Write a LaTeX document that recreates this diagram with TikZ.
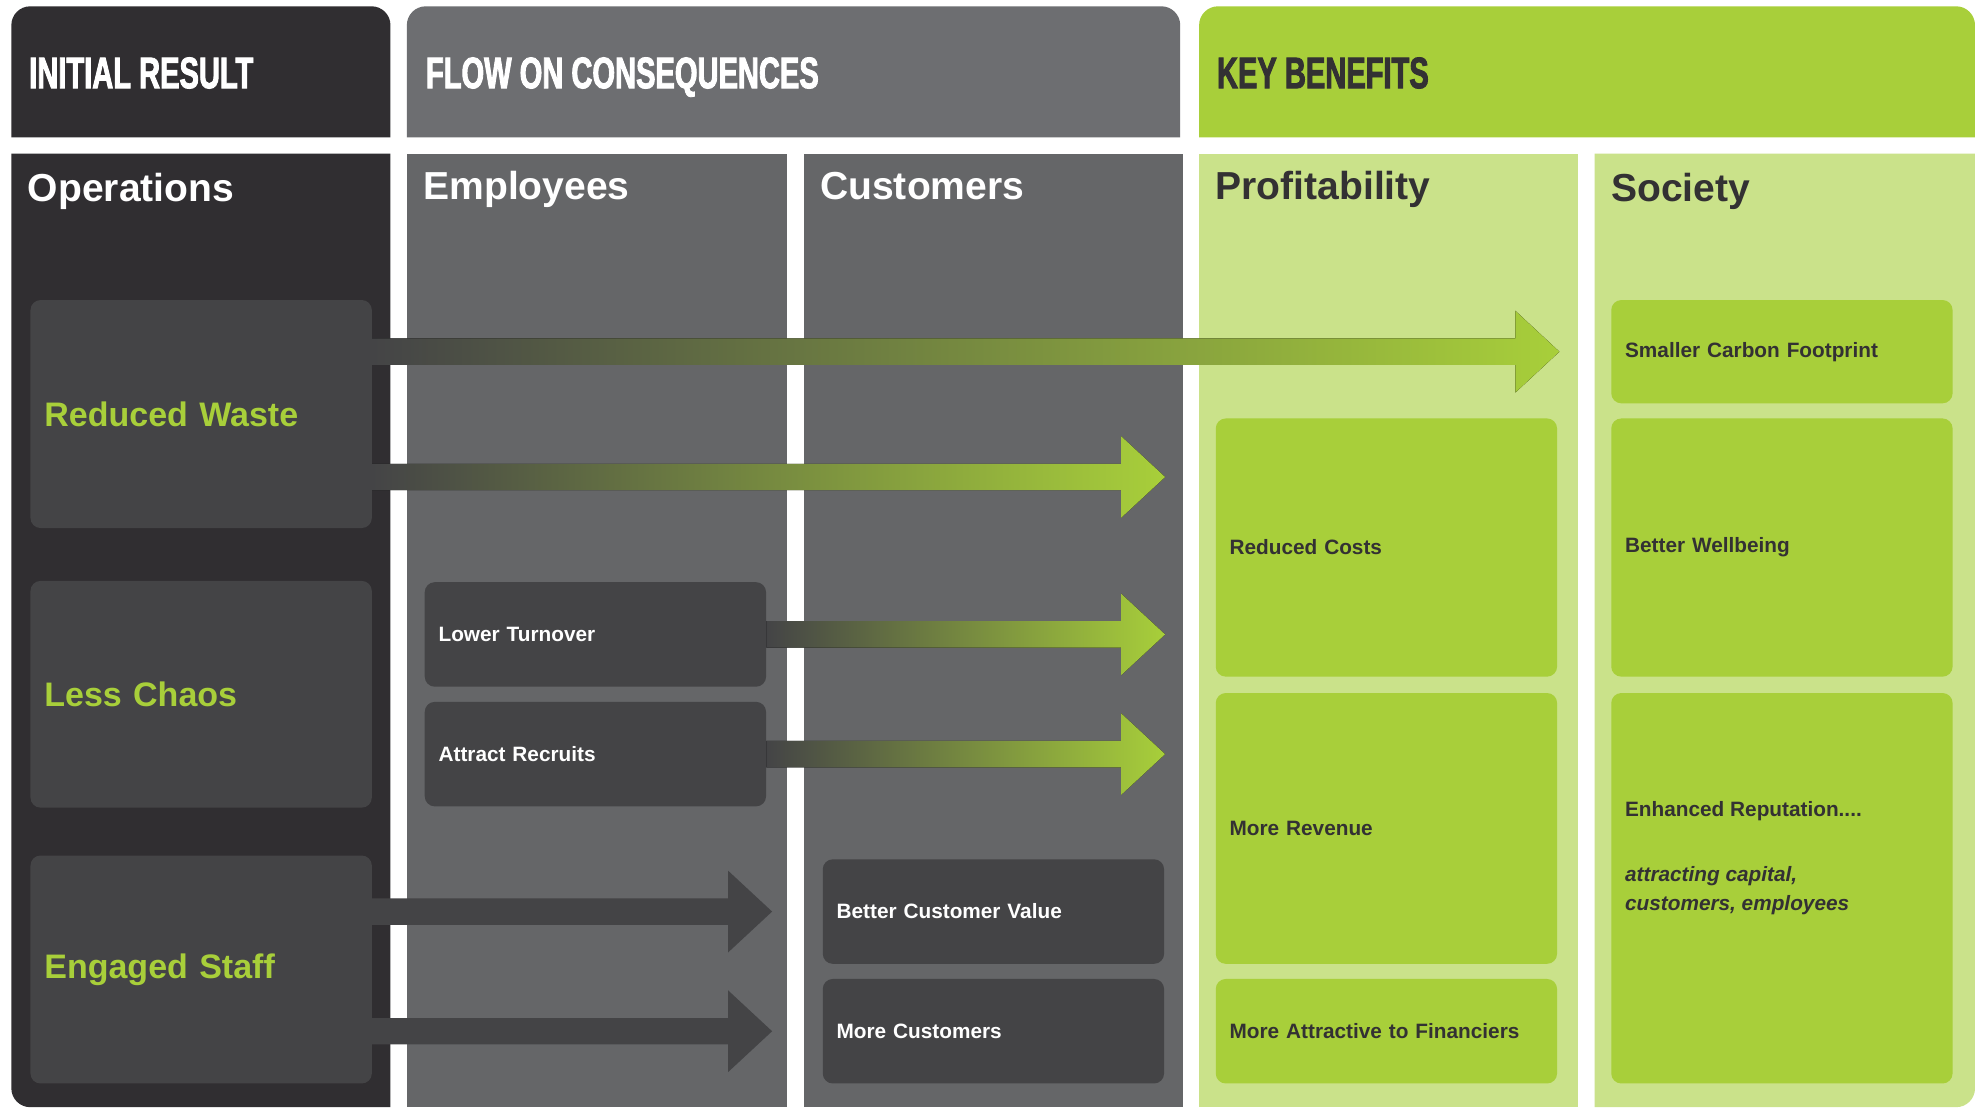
\documentclass[tikz,border=0pt]{standalone}
\usepackage{xcolor}
\usepackage{fontspec}
\setmainfont{Liberation Sans}
\newfontfamily\headfont[FakeStretch=0.66,FakeBold=2]{Liberation Sans}
\usetikzlibrary{calc}
\definecolor{opsdark}{RGB}{48,46,49}
\definecolor{flowgray}{RGB}{109,110,113}
\definecolor{colgray}{RGB}{101,102,104}
\definecolor{boxdark}{RGB}{68,68,70}
\definecolor{benefit}{RGB}{168,207,58}
\definecolor{benefitlight}{RGB}{202,226,138}
\definecolor{inkdark}{RGB}{51,49,51}

% fat arrow from tail #2 to tip #3
\newcommand{\flowarrow}[3]{%
  \fill[#1] ($(#2)+(0,-10.5)$) -- ($(#3)+(-35,-10.5)$) -- ($(#3)+(-35,-32.5)$) -- (#3)
    -- ($(#3)+(-35,32.5)$) -- ($(#3)+(-35,10.5)$) -- ($(#2)+(0,10.5)$) -- cycle;}

\begin{document}
\begin{tikzpicture}[x=1pt, y=-1pt,
    header/.style={anchor=base west, inner sep=0pt, font=\headfont\bfseries\fontsize{35}{35}\selectfont},
    coltitle/.style={anchor=base west, inner sep=0pt, font=\bfseries\fontsize{31}{31}\selectfont},
    card/.style={anchor=north west, rounded corners=8pt, inner xsep=11pt, inner ysep=0pt, text width=249pt, align=left, font=\bfseries\fontsize{16.5}{23}\selectfont},
    opsbox/.style={card, fill=boxdark, text=benefit, font=\bfseries\fontsize{27}{32}\selectfont},
    flowbox/.style={card, fill=boxdark, text=white, minimum height=83pt},
    keybox/.style={card, fill=benefit, text=inkdark},
    gradarrow/.style={left color=boxdark, right color=benefit},
]
    \useasboundingbox (0,0) rectangle (1568,879);
    \fill[white] (0,0) rectangle (1568,879);

    % header bands
    \fill[opsdark] (9,109) [rounded corners=15pt] -- (9,5) -- (310,5) [sharp corners] -- (310,109) -- cycle;
    \fill[flowgray] (323,109) [rounded corners=15pt] -- (323,5) -- (937,5) [sharp corners] -- (937,109) -- cycle;
    \fill[benefit] (952,109) [rounded corners=15pt] -- (952,5) -- (1568,5) [sharp corners] -- (1568,109) -- cycle;

    % columns
    \fill[opsdark] (310,122) -- (9,122) [rounded corners=15pt] -- (9,879) [sharp corners] -- (310,879) -- cycle;
    \fill[colgray] (323,122) rectangle (625,879);
    \fill[colgray] (638,122) rectangle (939,879);
    \fill[benefitlight] (952,122) rectangle (1253,879);
    \fill[benefitlight] (1266,122) -- (1568,122) [rounded corners=15pt] -- (1568,879) [sharp corners] -- (1266,879) -- cycle;

    \node[header, text=white] (initT) at (23,70) {INITIAL RESULT};
    \node[header, text=white] (flowT) at (338,70) {FLOW ON CONSEQUENCES};
    \node[header, text=inkdark] (keyT) at (966,70) {KEY BENEFITS};

    \node[coltitle, text=white] (opsT) at (22,160) {Operations};
    \node[coltitle, text=white] (empT) at (336,158) {Employees};
    \node[coltitle, text=white] (custT) at (651,158) {Customers};
    \node[coltitle, text=inkdark] (profT) at (965,158) {Profitability};
    \node[coltitle, text=inkdark] (socT) at (1279,160) {Society};

    \node[opsbox, minimum height=181pt] (waste) at (24,238) {Reduced Waste};
    \node[opsbox, minimum height=180pt] (chaos) at (24,461) {Less Chaos};
    \node[opsbox, minimum height=181pt] (staff) at (24,679) {Engaged Staff};

    \node[flowbox] (turnover) at (337,462) {Lower Turnover};
    \node[flowbox] (recruits) at (337,557) {Attract Recruits};
    \node[flowbox] (value) at (653,682) {Better Customer Value};
    \node[flowbox] (morecust) at (653,777) {More Customers};

    \node[keybox, minimum height=205pt] (costs) at (965,332) {Reduced Costs};
    \node[keybox, minimum height=215pt] (revenue) at (965,550) {More Revenue};
    \node[keybox, minimum height=83pt] (financiers) at (965,777) {More Attractive to Financiers};
    \node[keybox, minimum height=82pt] (footprint) at (1279,238) {Smaller Carbon Footprint};
    \node[keybox, minimum height=205pt] (wellbeing) at (1279,332) {Better Wellbeing};
    \node[keybox, minimum height=310pt] (reputation) at (1279,550) {};
    \node[anchor=north west, inner sep=0pt, align=left, text=inkdark, font=\bfseries\fontsize{16.5}{23}\selectfont]
        (repText) at ($(reputation.north west)+(11,86)$)
        {Enhanced Reputation....\\[29pt]\textit{attracting capital,}\\\textit{customers, employees}};

    % arrows
    \coordinate (t1) at ($(footprint.west)+(-41,0)$);
    \coordinate (s1) at (waste.east |- t1);
    \coordinate (t2) at ($(costs.west |- waste.east)+(-40,50)$);
    \coordinate (s2) at (waste.east |- t2);
    \coordinate (t3) at ($(turnover.east -| costs.west)+(-40,0)$);
    \coordinate (t4) at ($(recruits.east -| costs.west)+(-40,0)$);
    \coordinate (t5) at ($(value.west)+(-40,0)$);
    \coordinate (s5) at (staff.east |- value.west);
    \coordinate (t6) at ($(morecust.west)+(-40,0)$);
    \coordinate (s6) at (staff.east |- morecust.west);

    \flowarrow{gradarrow}{s1}{t1}
    \flowarrow{gradarrow}{s2}{t2}
    \flowarrow{gradarrow}{turnover.east}{t3}
    \flowarrow{gradarrow}{recruits.east}{t4}
    \flowarrow{boxdark}{s5}{t5}
    \flowarrow{boxdark}{s6}{t6}
\end{tikzpicture}
\end{document}
